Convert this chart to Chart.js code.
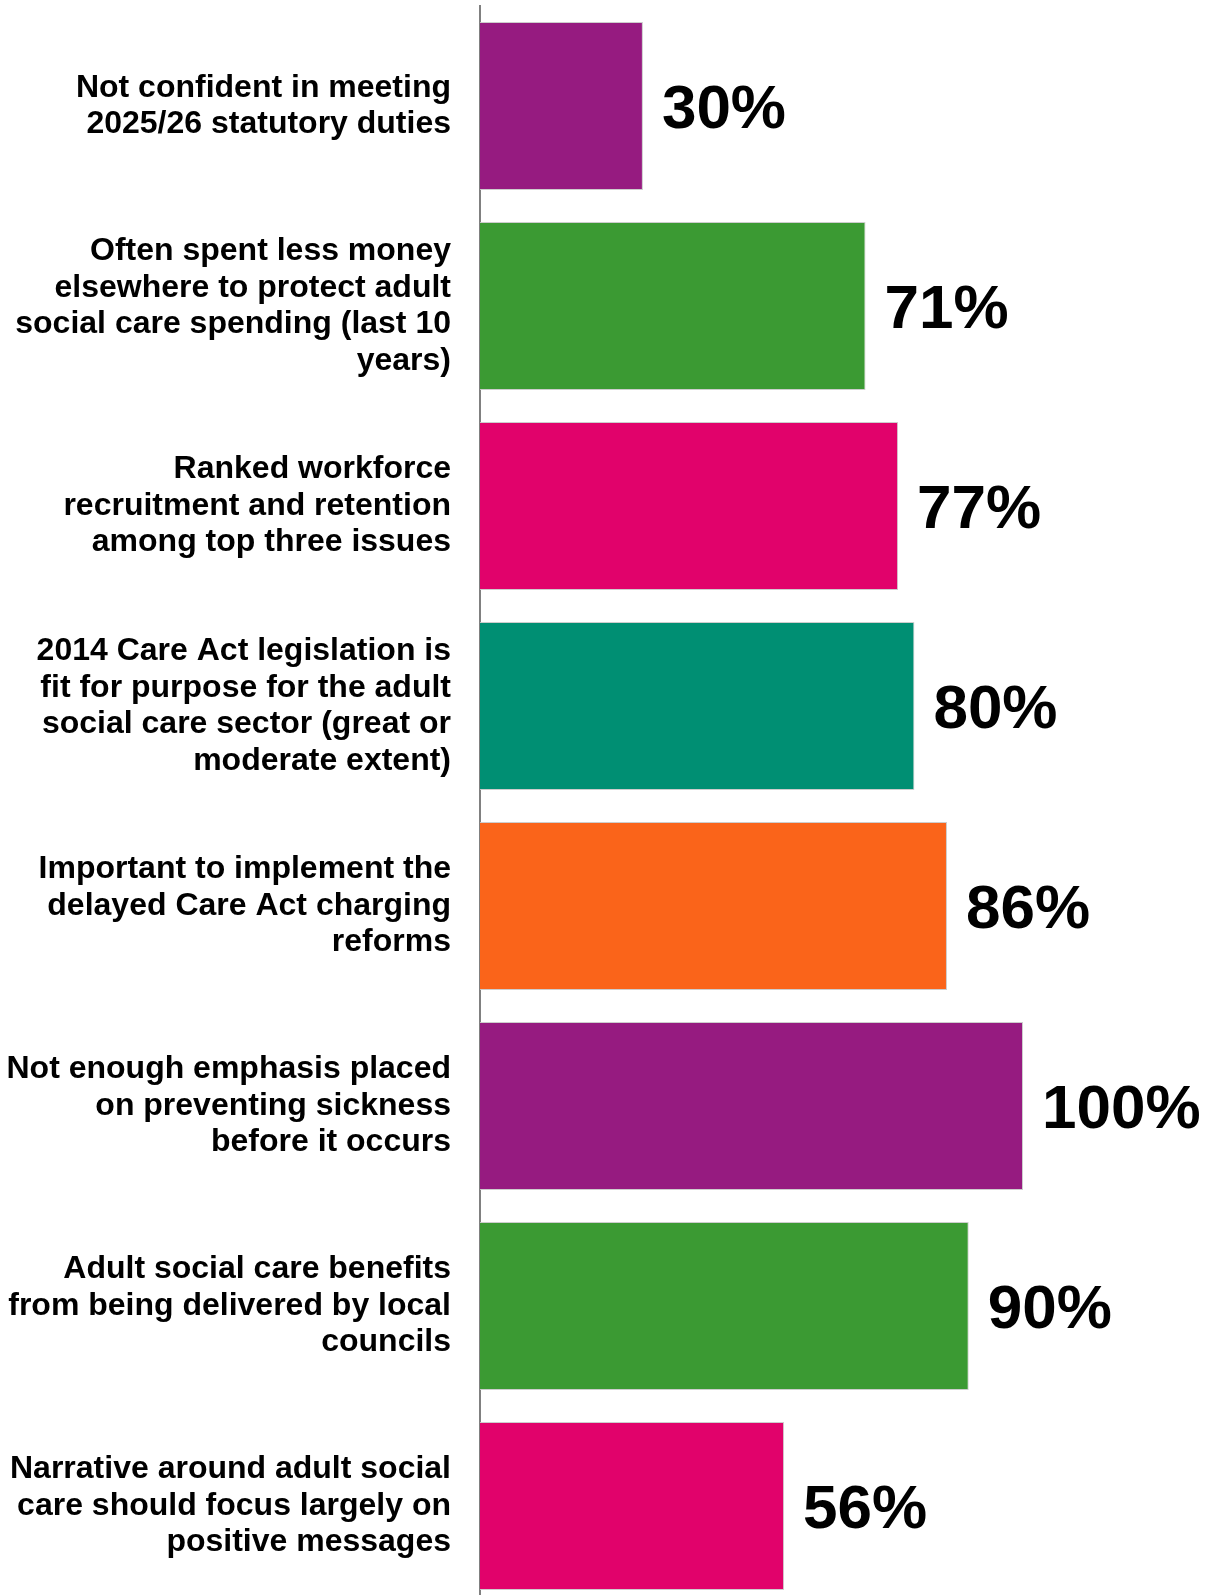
<!DOCTYPE html>
<html>
<head>
<meta charset="utf-8">
<script src="https://cdn.jsdelivr.net/npm/chart.js@4.4.1/dist/chart.umd.min.js"></script>
<style>
  html, body { margin: 0; padding: 0; background: #fff; overflow: hidden; }
  #wrap { width: 1213px; height: 1595px; overflow: hidden; position: relative; }
  canvas { display: block; }
</style>
</head>
<body>
<div id="wrap">
  <canvas id="surveyChart" width="1213" height="1606"></canvas>
</div>
<script>
const statements = [
    ['Not confident in meeting', '2025/26 statutory duties'],
    ['Often spent less money', 'elsewhere to protect adult', 'social care spending (last 10', 'years)'],
    ['Ranked workforce', 'recruitment and retention', 'among top three issues'],
    ['2014 Care Act legislation is', 'fit for purpose for the adult', 'social care sector (great or', 'moderate extent)'],
    ['Important to implement the', 'delayed Care Act charging', 'reforms'],
    ['Not enough emphasis placed', 'on preventing sickness', 'before it occurs'],
    ['Adult social care benefits', 'from being delivered by local', 'councils'],
    ['Narrative around adult social', 'care should focus largely on', 'positive messages']
];

const percentAgreeing = [30, 71, 77, 80, 86, 100, 90, 56];

const barColours = [
    'rgb(150, 27, 128)',  // purple
    'rgb(59, 154, 51)',   // green
    'rgb(225, 2, 107)',   // pink
    'rgb(0, 143, 115)',   // teal
    'rgb(250, 100, 26)',  // orange
    'rgb(150, 27, 128)',
    'rgb(59, 154, 51)',
    'rgb(225, 2, 107)'
];

const fontFamily = '"Liberation Sans", Arial, sans-serif';

// Big percentage figure to the right of every bar
const valueLabels = {
    id: 'valueLabels',
    afterDatasetsDraw(chart) {
        const ctx = chart.ctx;
        const meta = chart.getDatasetMeta(0);
        ctx.save();
        ctx.font = 'bold 62px ' + fontFamily;
        ctx.fillStyle = '#000';
        ctx.textAlign = 'left';
        ctx.textBaseline = 'middle';
        meta.data.forEach((bar, i) => {
            ctx.fillText(percentAgreeing[i] + '%', bar.x + 19, bar.y + 5);
        });
        ctx.restore();
    }
};

const surveyCtx = document.getElementById('surveyChart').getContext('2d');

const surveyChart = new Chart(surveyCtx, {
    type: 'bar',
    data: {
        labels: statements,
        datasets: [{
            data: percentAgreeing,
            backgroundColor: barColours,
            borderColor: 'rgba(200, 200, 200, 0.9)',
            borderWidth: 1,
            barPercentage: 0.84,
            categoryPercentage: 1
        }]
    },
    options: {
        indexAxis: 'y',
        responsive: false,
        animation: false,
        layout: {
            padding: { top: 6, right: 190, bottom: 0, left: 0 }
        },
        plugins: {
            legend: { display: false },
            tooltip: { enabled: false }
        },
        scales: {
            x: {
                display: false,
                min: 0,
                max: 100
            },
            y: {
                afterFit(scale) {
                    // fixed room for the wrapped statements, no extra label overhang
                    scale.width = 480;
                    scale.paddingTop = 0;
                    scale.paddingBottom = 0;
                },
                grid: { display: false, drawTicks: false },
                border: { display: true, color: '#808080', width: 2 },
                ticks: {
                    padding: 29,
                    color: '#000',
                    autoSkip: false,
                    font: { family: fontFamily, size: 32, weight: 'bold', lineHeight: 1.145 }
                }
            }
        }
    },
    plugins: [valueLabels]
});
</script>
</body>
</html>
